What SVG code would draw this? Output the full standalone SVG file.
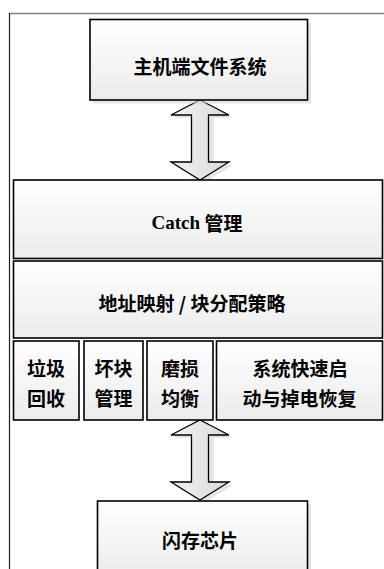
<svg xmlns="http://www.w3.org/2000/svg" width="384" height="569" viewBox="0 0 384 569">
<style>
.box{stroke:#000;stroke-width:1.6;fill:url(#g)}
.sh{fill:#d6d6d6;opacity:0.6}
.t{font-family:"Noto Sans CJK SC","Liberation Sans",sans-serif;font-size:19px;font-weight:bold;fill:#000;text-anchor:middle;dominant-baseline:central}
.tl{font-family:"Liberation Serif","Noto Sans CJK SC",serif;font-weight:bold}
.arr{fill:url(#ga);stroke:#000;stroke-width:1.3;stroke-linejoin:miter}
</style>
<defs>
<linearGradient id="g" x1="0" y1="0" x2="0" y2="1">
<stop offset="0" stop-color="#ffffff"/>
<stop offset="1" stop-color="#ececec"/>
</linearGradient>
<linearGradient id="ga" x1="0" y1="0" x2="1" y2="0">
<stop offset="0" stop-color="#f4f4f4"/>
<stop offset="1" stop-color="#d8d8d8"/>
</linearGradient>
</defs>
<rect width="384" height="569" fill="#fff"/>
<g id="frame">
<line x1="9" y1="13.5" x2="384" y2="13.5" stroke="#808080" stroke-width="1.5"/>
<line x1="9.5" y1="13" x2="9.5" y2="569" stroke="#222" stroke-width="1.2"/>
</g>
<g id="connectors">
<path class="sh" d="M203 103 L233 118 L214 118 L214 165 L233 165 L203 184 L173 165 L192 165 L192 118 L173 118 Z"/>
<path class="arr" d="M200 100 L229 115 L208.5 115 L208.5 162 L229 162 L200 180 L171 162 L191.5 162 L191.5 115 L171 115 Z"/>
<path class="sh" d="M203 423 L233 438 L214 438 L214 485 L233 485 L203 504 L173 485 L192 485 L192 438 L173 438 Z"/>
<path class="arr" d="M200 420 L229 435 L208.5 435 L208.5 482 L229 482 L200 500 L171 482 L191.5 482 L191.5 435 L171 435 Z"/>
</g>
<g id="host">
<rect class="sh" x="93" y="22.5" width="218" height="81"/>
<rect class="box" x="90" y="19.5" width="217.5" height="80.5"/>
<text class="t" x="200" y="65">主机端文件系统</text>
</g>
<g id="catch">
<rect class="box" x="13.5" y="180" width="369" height="78.5"/>
<text class="t" x="197" y="222"><tspan class="tl">Catch</tspan> 管理</text>
</g>
<g id="mapping">
<rect class="box" x="13.5" y="261" width="369" height="77"/>
<text class="t" x="192" y="302">地址映射 / 块分配策略</text>
</g>
<g id="gc">
<rect class="box" x="13.5" y="341" width="65.5" height="79"/>
<text class="t" x="46" y="367">垃圾</text>
<text class="t" x="46" y="397">回收</text>
</g>
<g id="badblock">
<rect class="box" x="84" y="341" width="59" height="79"/>
<text class="t" x="113.5" y="367">坏块</text>
<text class="t" x="113.5" y="397">管理</text>
</g>
<g id="wear">
<rect class="box" x="147" y="341" width="66" height="79"/>
<text class="t" x="180" y="367">磨损</text>
<text class="t" x="180" y="397">均衡</text>
</g>
<g id="recovery">
<rect class="box" x="216.5" y="341" width="166" height="79"/>
<text class="t" x="300" y="367">系统快速启</text>
<text class="t" x="299.5" y="397">动与掉电恢复</text>
</g>
<g id="flash">
<rect class="sh" x="100" y="504" width="211" height="70"/>
<rect class="box" x="97.5" y="501" width="210" height="75"/>
<text class="t" x="200" y="539">闪存芯片</text>
</g>
</svg>
